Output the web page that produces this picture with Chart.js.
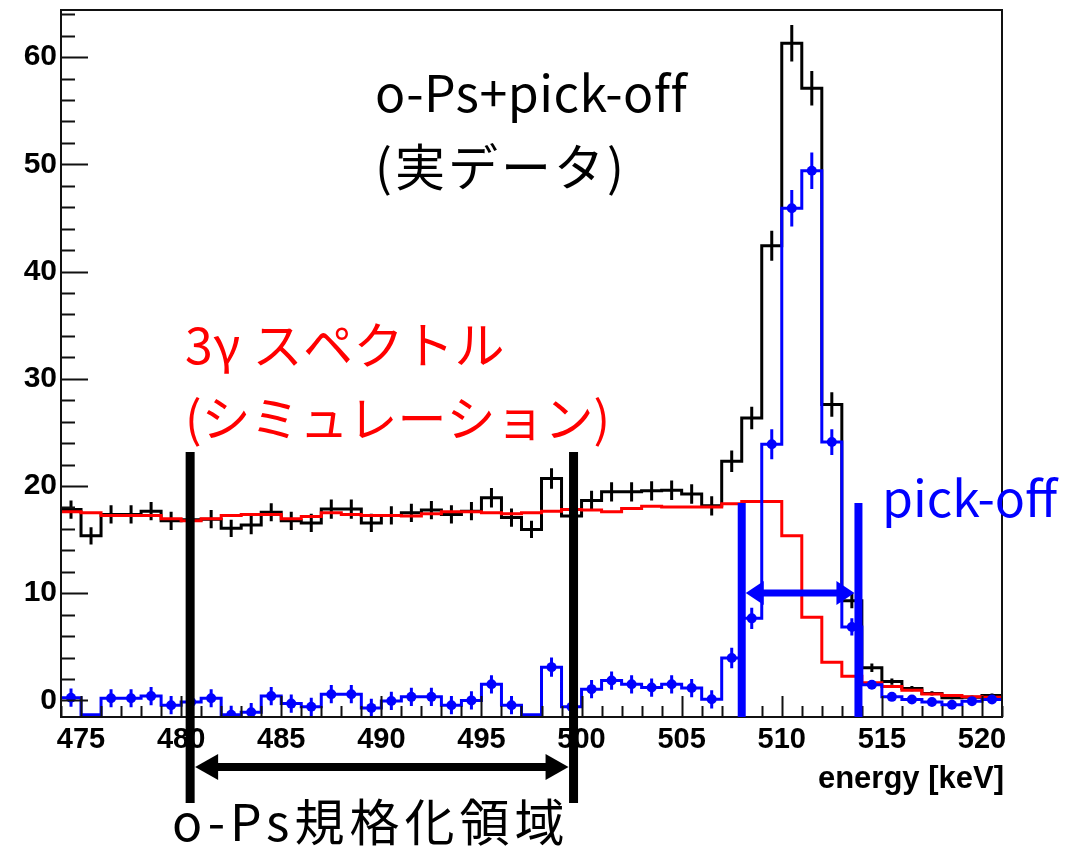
<!DOCTYPE html>
<html>
<head>
<meta charset="utf-8">
<script src="https://cdn.jsdelivr.net/npm/chart.js@4.4.0/dist/chart.umd.min.js"></script>
<style>
html, body { margin: 0; padding: 0; background: #fff; }
#wrap { width: 1081px; height: 852px; }
</style>
</head>
<body>
<div id="wrap"><canvas id="grafico" width="1081" height="852"></canvas></div>
<script>
// bin centers [keV], 1 keV bins
const energy = [474.5, 475.5, 476.5, 477.5, 478.5, 479.5, 480.5, 481.5, 482.5, 483.5,
    484.5, 485.5, 486.5, 487.5, 488.5, 489.5, 490.5, 491.5, 492.5, 493.5,
    494.5, 495.5, 496.5, 497.5, 498.5, 499.5, 500.5, 501.5, 502.5, 503.5,
    504.5, 505.5, 506.5, 507.5, 508.5, 509.5, 510.5, 511.5, 512.5, 513.5,
    514.5, 515.5, 516.5, 517.5, 518.5, 519.5, 520.5];

// o-Ps + pick-off (real data)
const dataCounts = [17.8, 15.35, 17.35, 17.35, 17.65, 16.75, 16.85, 16.9, 16.05, 16.35,
    17.55, 16.75, 16.55, 17.85, 17.85, 16.55, 17.25, 17.5, 17.75, 17.35,
    17.65, 18.9, 17.05, 15.95, 20.7, 17.2, 18.65, 19.45, 19.45, 19.55,
    19.6, 19.25, 18.15, 22.3, 26.35, 42.4, 61.3, 57.1, 27.6, 9.3,
    3.05, 1.75, 1.1, 0.65, 0.25, 0.3, 0.45];
const dataErrors = [0.85, 0.8, 0.85, 0.85, 0.85, 0.85, 0.85, 0.85, 0.8, 0.85,
    0.85, 0.85, 0.85, 0.9, 0.9, 0.85, 0.85, 0.85, 0.85, 0.85,
    0.85, 0.9, 0.85, 0.8, 0.95, 0.85, 0.9, 0.9, 0.9, 0.9,
    0.9, 0.9, 0.9, 1.0, 1.05, 1.4, 1.7, 1.6, 1.15, 0.7,
    0.4, 0.3, 0.25, 0.2, 0.15, 0.15, 0.2];

// pick-off (blue)
const pickoffCounts = [0.25, -1.35, 0.2, 0.2, 0.4, -0.45, -0.15, 0.2, -1.35, -1.1,
    0.4, -0.3, -0.6, 0.58, 0.58, -0.7, -0.05, 0.33, 0.33, -0.45,
    0.0, 1.5, -0.45, -1.35, 3.1, -0.6, 1.05, 1.85, 1.5, 1.2,
    1.5, 1.15, 0.1, 3.95, 7.65, 23.9, 45.9, 49.4, 24.1, 6.85,
    1.45, 0.33, 0.08, -0.15, -0.4, -0.07, 0.08];
const pickoffErrors = [0.85, null, 0.85, 0.85, 0.85, 0.85, 0.85, 0.85, 0.85, 0.85,
    0.85, 0.85, 0.85, 0.85, 0.85, 0.85, 0.85, 0.85, 0.85, 0.85,
    0.85, 0.85, 0.85, null, 0.9, 0.85, 0.85, 0.85, 0.85, 0.85,
    0.85, 0.85, 0.85, 0.95, 1.0, 1.4, 1.7, 1.7, 1.2, 0.8,
    0.35, 0.3, 0.3, 0.3, 0.3, 0.3, 0.3];

// 3gamma simulation (red)
const simCounts = [17.6, 17.5, 17.25, 17.25, 17.25, 16.95, 16.75, 16.95, 17.25, 17.35,
    17.35, 16.95, 17.15, 17.5, 17.35, 17.25, 17.25, 17.2, 17.4, 17.6,
    17.6, 17.5, 17.4, 17.5, 17.65, 17.8, 17.75, 17.6, 17.9, 18.1,
    18.05, 18.05, 18.05, 18.35, 18.55, 18.55, 15.35, 7.75, 3.55, 2.25,
    1.65, 1.3, 0.95, 0.6, 0.45, 0.35, 0.3];

const xTickLabels = [475, 480, 485, 490, 495, 500, 505, 510, 515, 520];
const yTickLabels = [0, 10, 20, 30, 40, 50, 60];

const fonteTexto = '"Noto Sans CJK JP", "Noto Sans", sans-serif';

// left edge of each bin + closing right edge; with stepped 'before'
// the segment [edge_i, edge_i+1] is drawn at values[i]
function pontosDegrau(valores) {
    let pts = [];
    for (let i = 0; i < energy.length; i++) {
        pts.push({ x: energy[i] - 0.5, y: valores[i] });
    }
    pts.push({ x: energy[energy.length - 1] + 0.5, y: valores[valores.length - 1] });
    return pts;
}

function pontosErro(valores, erros) {
    let pts = [];
    for (let i = 0; i < energy.length; i++) {
        if (erros[i] == null) continue;
        pts.push({ x: energy[i], y: valores[i] - erros[i] });
        pts.push({ x: energy[i], y: valores[i] + erros[i] });
        pts.push({ x: energy[i], y: null });
    }
    return pts;
}

function pontosMarcador(valores, erros) {
    let pts = [];
    for (let i = 0; i < energy.length; i++) {
        if (erros[i] == null) continue;
        pts.push({ x: energy[i], y: valores[i] });
    }
    return pts;
}

function semPadding(scale) {
    scale.paddingTop = 0;
    scale.paddingBottom = 0;
    scale.paddingLeft = 0;
    scale.paddingRight = 0;
}

// frame, inward ticks and axis title, ROOT style
const moldura = {
    id: 'moldura',
    afterDatasetsDraw(chart) {
        const { ctx, chartArea: a, scales: { x, y } } = chart;
        ctx.save();
        ctx.strokeStyle = '#111';
        ctx.lineWidth = 2;
        ctx.beginPath();
        for (let e = 474; e <= 521; e++) {
            const px = Math.round(x.getPixelForValue(e)) + 0.5;
            const len = e % 5 === 0 ? 21 : 11;
            ctx.moveTo(px, a.bottom);
            ctx.lineTo(px, a.bottom - len);
        }
        for (let v = 0; v <= 64; v += 2) {
            const py = Math.round(y.getPixelForValue(v)) + 0.5;
            const len = v % 10 === 0 ? 27 : 14;
            ctx.moveTo(a.left, py);
            ctx.lineTo(a.left + len, py);
        }
        ctx.stroke();
        ctx.strokeRect(a.left, a.top, a.right - a.left, a.bottom - a.top);

        ctx.fillStyle = '#000';
        ctx.font = 'bold 31px "Liberation Sans", Arial, sans-serif';
        ctx.textAlign = 'right';
        ctx.textBaseline = 'alphabetic';
        ctx.fillText('energy [keV]', a.right + 2, 788);
        ctx.restore();
    }
};

function ponta(ctx, xPonta, yc, dir, comp, meia) {
    ctx.beginPath();
    ctx.moveTo(xPonta, yc);
    ctx.lineTo(xPonta + dir * comp, yc - meia);
    ctx.lineTo(xPonta + dir * comp, yc + meia);
    ctx.closePath();
    ctx.fill();
}

function setaDupla(ctx, x1, x2, yc, cor, espessura, comp, meia) {
    ctx.strokeStyle = cor;
    ctx.fillStyle = cor;
    ctx.lineWidth = espessura;
    ctx.beginPath();
    ctx.moveTo(x1 + comp - 2, yc);
    ctx.lineTo(x2 - comp + 2, yc);
    ctx.stroke();
    ponta(ctx, x1, yc, 1, comp, meia);
    ponta(ctx, x2, yc, -1, comp, meia);
}

function linhaVertical(ctx, xp, y1, y2, cor, espessura) {
    ctx.fillStyle = cor;
    ctx.fillRect(xp - espessura / 2, y1, espessura, y2 - y1);
}

function texto(ctx, str, xp, yp, tamanho, espaco) {
    ctx.font = tamanho + 'px ' + fonteTexto;
    ctx.letterSpacing = espaco + 'px';
    ctx.fillText(str, xp, yp);
}

const anotacoes = {
    id: 'anotacoes',
    afterDraw(chart) {
        const { ctx, scales: { x } } = chart;
        ctx.save();

        // o-Ps normalisation region
        const xa = x.getPixelForValue(480.45);
        const xb = x.getPixelForValue(499.6);
        linhaVertical(ctx, xa, 452, 803, '#000', 9);
        linhaVertical(ctx, xb, 452, 803, '#000', 9);
        setaDupla(ctx, xa + 5, xb - 5, 767, '#000', 8, 23, 13);

        // pick-off window
        const xc = x.getPixelForValue(508.0);
        const xd = x.getPixelForValue(513.83);
        linhaVertical(ctx, xc, 503, 717, '#0000ff', 8);
        linhaVertical(ctx, xd, 503, 717, '#0000ff', 8);
        setaDupla(ctx, xc + 4, xd - 4, 593, '#0000ff', 7, 18, 12);

        ctx.textAlign = 'left';
        ctx.textBaseline = 'alphabetic';
        ctx.fillStyle = '#000';
        texto(ctx, 'o-Ps+pick-off', 375, 112, 50, 0.5);
        texto(ctx, '(実データ)', 375, 186, 50, 3);
        texto(ctx, 'o-Ps規格化領域', 172, 841, 50, 5);

        ctx.fillStyle = '#ff0000';
        texto(ctx, '3γ スペクトル', 185, 364, 50, 0.5);
        texto(ctx, '(シミュレーション)', 185, 437, 49, 0);

        ctx.fillStyle = '#0000ff';
        texto(ctx, 'pick-off', 882, 517, 50, 0);
        ctx.restore();
    }
};

function plotarGrafico() {
    const data = {
        datasets: [
            {
                label: 'o-Ps+pick-off',
                data: pontosDegrau(dataCounts),
                stepped: 'before',
                borderColor: '#000',
                borderWidth: 3,
                pointRadius: 0,
                fill: false,
                order: 6,
            },
            {
                label: 'o-Ps+pick-off err',
                data: pontosErro(dataCounts, dataErrors),
                borderColor: '#000',
                borderWidth: 3,
                pointRadius: 0,
                fill: false,
                order: 5,
            },
            {
                label: '3γ',
                data: pontosDegrau(simCounts),
                stepped: 'before',
                borderColor: '#ff0000',
                borderWidth: 3,
                pointRadius: 0,
                fill: false,
                order: 4,
            },
            {
                label: 'pick-off',
                data: pontosDegrau(pickoffCounts),
                stepped: 'before',
                borderColor: '#0000ff',
                borderWidth: 3,
                pointRadius: 0,
                fill: false,
                order: 3,
            },
            {
                label: 'pick-off err',
                data: pontosErro(pickoffCounts, pickoffErrors),
                borderColor: '#0000ff',
                borderWidth: 3,
                pointRadius: 0,
                fill: false,
                order: 2,
            },
            {
                label: 'pick-off pts',
                data: pontosMarcador(pickoffCounts, pickoffErrors),
                showLine: false,
                pointRadius: 5,
                pointBackgroundColor: '#0000ff',
                pointBorderWidth: 0,
                order: 1,
            },
        ],
    };

    const config = {
        type: 'line',
        data,
        options: {
            responsive: false,
            animation: false,
            events: [],
            layout: { padding: { top: 10, right: 79, left: 0, bottom: 0 } },
            plugins: {
                legend: { display: false },
                tooltip: { enabled: false },
            },
            scales: {
                x: {
                    type: 'linear',
                    min: 474,
                    max: 521,
                    grid: { display: false, drawTicks: false },
                    border: { display: false },
                    afterBuildTicks: (scale) => {
                        scale.ticks = xTickLabels.map(v => ({ value: v }));
                    },
                    afterFit: (scale) => { scale.height = 135; semPadding(scale); },
                    ticks: {
                        autoSkip: false,
                        maxRotation: 0,
                        padding: 6,
                        color: '#000',
                        font: { family: '"Liberation Sans", Arial, sans-serif', size: 29, weight: 'bold' },
                    },
                },
                y: {
                    type: 'linear',
                    min: -1.55,
                    max: 64.4,
                    grid: { display: false, drawTicks: false },
                    border: { display: false },
                    afterBuildTicks: (scale) => {
                        scale.ticks = yTickLabels.map(v => ({ value: v }));
                    },
                    afterFit: (scale) => { scale.width = 61; semPadding(scale); },
                    ticks: {
                        autoSkip: false,
                        padding: 4,
                        color: '#000',
                        font: { family: '"Liberation Sans", Arial, sans-serif', size: 30, weight: 'bold' },
                    },
                },
            },
        },
        plugins: [moldura, anotacoes],
    };

    new Chart(document.getElementById('grafico').getContext('2d'), config);
}

plotarGrafico();
</script>
</body>
</html>
